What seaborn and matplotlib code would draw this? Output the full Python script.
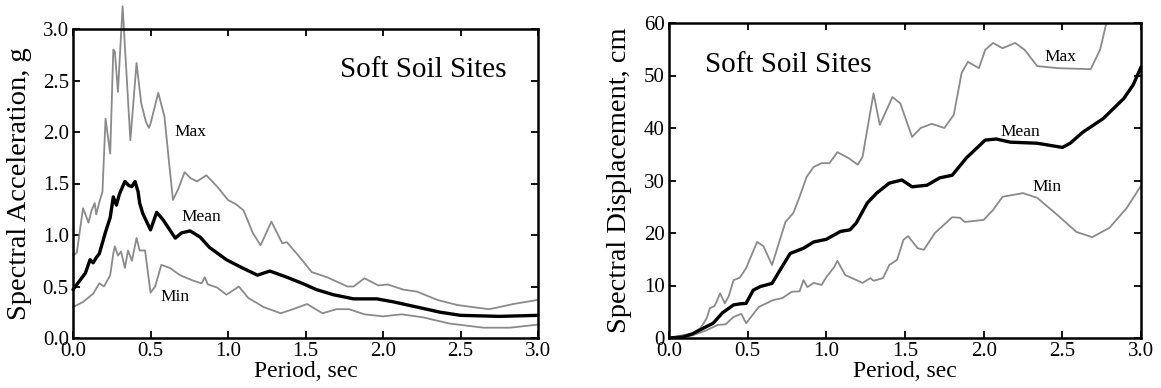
import numpy as np
import pandas as pd
import matplotlib
matplotlib.use("Agg")
import matplotlib.pyplot as plt
import seaborn as sns

# ---------------- data: left panel (spectral acceleration, g) ----------------
acc_max_T = [0, 0.025, 0.045, 0.065, 0.08, 0.10, 0.12, 0.14, 0.15, 0.17, 0.19, 0.21, 0.24, 0.26,
             0.27, 0.29, 0.32, 0.37, 0.41, 0.44, 0.47, 0.49, 0.50, 0.55, 0.59, 0.62, 0.645, 0.68,
             0.72, 0.76, 0.80, 0.86, 0.93, 1.0, 1.05, 1.10, 1.16, 1.21, 1.28, 1.35, 1.38, 1.46,
             1.54, 1.64, 1.77, 1.81, 1.88, 1.97, 2.03, 2.13, 2.22, 2.35, 2.48, 2.68, 2.72, 2.84, 3.0]
acc_max = [0.80, 0.83, 1.05, 1.26, 1.20, 1.12, 1.24, 1.31, 1.20, 1.32, 1.42, 2.13, 1.79, 2.80,
           2.78, 2.39, 3.22, 1.92, 2.67, 2.28, 2.10, 2.04, 2.08, 2.38, 2.15, 1.70, 1.34, 1.45,
           1.61, 1.55, 1.52, 1.58, 1.47, 1.34, 1.30, 1.24, 1.02, 0.90, 1.13, 0.92, 0.93, 0.79,
           0.64, 0.59, 0.50, 0.50, 0.58, 0.51, 0.52, 0.47, 0.45, 0.37, 0.32, 0.28, 0.29, 0.33, 0.37]

acc_mean_T = [0, 0.045, 0.08, 0.11, 0.13, 0.15, 0.17, 0.21, 0.24, 0.26, 0.28, 0.30, 0.335, 0.36,
              0.38, 0.40, 0.42, 0.43, 0.45, 0.50, 0.54, 0.58, 0.66, 0.70, 0.755, 0.82, 0.88, 0.99,
              1.08, 1.19, 1.27, 1.38, 1.48, 1.57, 1.68, 1.81, 1.96, 2.07, 2.22, 2.37, 2.50, 2.75, 3.0]
acc_mean = [0.47, 0.56, 0.63, 0.76, 0.73, 0.78, 0.82, 1.03, 1.17, 1.37, 1.29, 1.40, 1.52, 1.48,
            1.47, 1.52, 1.42, 1.31, 1.21, 1.05, 1.22, 1.15, 0.97, 1.02, 1.04, 0.98, 0.88, 0.76,
            0.69, 0.61, 0.65, 0.59, 0.53, 0.47, 0.42, 0.38, 0.38, 0.35, 0.30, 0.25, 0.22, 0.21, 0.22]

acc_min_T = [0, 0.065, 0.13, 0.17, 0.20, 0.24, 0.26, 0.27, 0.29, 0.31, 0.335, 0.355, 0.38, 0.41,
             0.43, 0.465, 0.50, 0.53, 0.57, 0.625, 0.69, 0.77, 0.83, 0.85, 0.87, 0.93, 0.99, 1.07,
             1.13, 1.23, 1.34, 1.42, 1.51, 1.61, 1.70, 1.78, 1.88, 2.0, 2.12, 2.26, 2.43, 2.65, 2.82, 3.0]
acc_min = [0.30, 0.35, 0.43, 0.53, 0.50, 0.61, 0.82, 0.89, 0.80, 0.84, 0.68, 0.85, 0.75, 0.97,
           0.85, 0.85, 0.44, 0.50, 0.71, 0.68, 0.61, 0.56, 0.53, 0.59, 0.52, 0.49, 0.42, 0.50,
           0.39, 0.30, 0.24, 0.28, 0.33, 0.24, 0.28, 0.28, 0.23, 0.21, 0.23, 0.20, 0.14, 0.10, 0.10, 0.13]

# ---------------- data: right panel (spectral displacement, cm) ----------------
dis_max_T = [0, 0.15, 0.20, 0.22, 0.24, 0.26, 0.29, 0.325, 0.355, 0.38, 0.41, 0.45, 0.49, 0.56,
             0.60, 0.655, 0.71, 0.74, 0.79, 0.83, 0.875, 0.92, 0.97, 1.02, 1.07, 1.14, 1.20, 1.23,
             1.30, 1.34, 1.42, 1.47, 1.545, 1.60, 1.67, 1.75, 1.81, 1.86, 1.90, 1.97, 2.01, 2.06,
             2.12, 2.20, 2.26, 2.34, 2.47, 2.68, 2.74, 2.78, 2.85]
dis_max = [0, 0.9, 1.9, 2.8, 3.8, 5.7, 6.1, 8.5, 6.6, 8.0, 11.0, 11.5, 13.3, 18.3,
           17.5, 13.9, 19.2, 22.1, 23.8, 26.9, 30.7, 32.6, 33.3, 33.3, 35.4, 34.3, 33.0, 34.5,
           46.6, 40.6, 45.9, 44.7, 38.3, 40.0, 40.8, 40.0, 42.5, 50.5, 52.6, 51.4, 54.9, 56.2,
           55.2, 56.2, 54.9, 51.8, 51.4, 51.2, 54.9, 60.0, 66.0]

dis_mean_T = [0, 0.09, 0.15, 0.22, 0.28, 0.34, 0.41, 0.45, 0.49, 0.535, 0.58, 0.655, 0.705, 0.77,
              0.855, 0.92, 1.0, 1.09, 1.15, 1.19, 1.26, 1.32, 1.40, 1.48, 1.545, 1.64, 1.72, 1.80,
              1.89, 2.01, 2.08, 2.17, 2.34, 2.50, 2.55, 2.63, 2.76, 2.89, 2.95, 3.0]
dis_mean = [0, 0.2, 0.8, 1.9, 2.8, 4.8, 6.3, 6.5, 6.6, 9.1, 9.8, 10.4, 12.9, 16.1,
            17.1, 18.3, 18.8, 20.3, 20.6, 21.9, 25.7, 27.6, 29.5, 30.1, 28.8, 29.1, 30.5, 31.0,
            34.3, 37.7, 37.9, 37.3, 37.1, 36.3, 37.1, 39.2, 41.8, 45.6, 48.2, 51.6]

dis_min_T = [0, 0.15, 0.24, 0.31, 0.36, 0.41, 0.46, 0.49, 0.57, 0.66, 0.72, 0.78, 0.83, 0.855,
             0.88, 0.92, 0.97, 1.0, 1.05, 1.07, 1.12, 1.23, 1.28, 1.30, 1.36, 1.40, 1.45, 1.49,
             1.52, 1.58, 1.62, 1.69, 1.80, 1.85, 1.88, 2.00, 2.06, 2.12, 2.25, 2.34, 2.47, 2.59,
             2.69, 2.80, 2.91, 3.0]
dis_min = [0, 0.5, 1.5, 2.5, 2.6, 4.0, 4.6, 2.8, 5.9, 7.2, 7.6, 8.8, 8.9, 11.0,
           9.7, 10.5, 10.1, 11.6, 13.5, 14.7, 12.0, 10.5, 11.4, 10.9, 11.4, 13.9, 14.9, 18.7,
           19.4, 17.1, 16.8, 20.0, 23.0, 22.9, 22.1, 22.5, 24.4, 26.9, 27.6, 26.7, 23.4, 20.2,
           19.2, 21.0, 24.8, 29.0]

x_ticks = [0.0, 0.5, 1.0, 1.5, 2.0, 2.5, 3.0]
acc_ticks = [0.0, 0.5, 1.0, 1.5, 2.0, 2.5, 3.0]
dis_ticks = [0, 10, 20, 30, 40, 50, 60]

# ---------------- styling ----------------
sns.set_theme(style="ticks")
plt.rcParams["font.family"] = ["Liberation Serif", "DejaVu Serif"]
plt.rcParams["xtick.direction"] = "in"
plt.rcParams["ytick.direction"] = "in"
plt.rcParams["text.color"] = "black"
plt.rcParams["axes.labelcolor"] = "black"
plt.rcParams["xtick.color"] = "black"
plt.rcParams["ytick.color"] = "black"

GRAY = "#8a8a8a"

fig = plt.figure(figsize=(11.61, 3.88), dpi=100)
W, H = 1161, 388
ax1 = fig.add_axes([73 / W, (H - 338) / H, (538 - 73) / W, (338 - 29) / H])
ax2 = fig.add_axes([669 / W, (H - 338) / H, (1141 - 669) / W, (338 - 23) / H])


def draw(ax, series, clip):
    for T, v, color, lw in series:
        df = pd.DataFrame({"T": T, "v": v})
        sns.lineplot(data=df, x="T", y="v", ax=ax, color=color, linewidth=lw,
                     estimator=None, sort=False, clip_on=clip)


draw(ax1, [(acc_max_T, acc_max, GRAY, 1.3),
           (acc_min_T, acc_min, GRAY, 1.3),
           (acc_mean_T, acc_mean, "black", 2.4)], clip=False)
draw(ax2, [(dis_max_T, dis_max, GRAY, 1.3),
           (dis_min_T, dis_min, GRAY, 1.3),
           (dis_mean_T, dis_mean, "black", 2.4)], clip=True)

for ax in (ax1, ax2):
    ax.set_xlim(0, 3)
    ax.set_xticks(x_ticks)
    ax.set_xticklabels([f"{t:.1f}" for t in x_ticks])
    ax.tick_params(axis="both", which="major", labelsize=15, length=5, width=1.3,
                   top=True, right=True, pad=3, colors="black", labelcolor="black")
    for s in ax.spines.values():
        s.set_linewidth(1.8)
        s.set_color("black")
        s.set_visible(True)
    ax.set_xlabel("Period, sec", fontsize=17, labelpad=0, color="black")

ax1.set_ylim(0, 3)
ax1.set_yticks(acc_ticks)
ax1.set_yticklabels([f"{t:.1f}" for t in acc_ticks])
ax1.set_ylabel("Spectral Acceleration, g", fontsize=20.5, color="black")
ax1.yaxis.set_label_coords(-0.088, 0.5)

ax2.set_ylim(0, 60)
ax2.set_yticks(dis_ticks)
ax2.set_yticklabels([str(t) for t in dis_ticks])
ax2.set_ylabel("Spectral Displacement, cm", fontsize=20.5, color="black")
ax2.yaxis.set_label_coords(-0.078, 0.5)

ax1.text(2.26, 2.60, "Soft Soil Sites", fontsize=21, ha="center", va="center", color="black")
ax1.text(0.755, 2.0, "Max", fontsize=12.5, ha="center", va="center", color="black")
ax1.text(0.83, 1.17, "Mean", fontsize=12.5, ha="center", va="center", color="black")
ax1.text(0.66, 0.40, "Min", fontsize=12.5, ha="center", va="center", color="black")

ax2.text(0.76, 52.0, "Soft Soil Sites", fontsize=21, ha="center", va="center", color="black")
ax2.text(2.49, 53.5, "Max", fontsize=12.5, ha="center", va="center", color="black")
ax2.text(2.23, 39.3, "Mean", fontsize=12.5, ha="center", va="center", color="black")
ax2.text(2.40, 28.8, "Min", fontsize=12.5, ha="center", va="center", color="black")

fig.savefig("out.png", dpi=100)
